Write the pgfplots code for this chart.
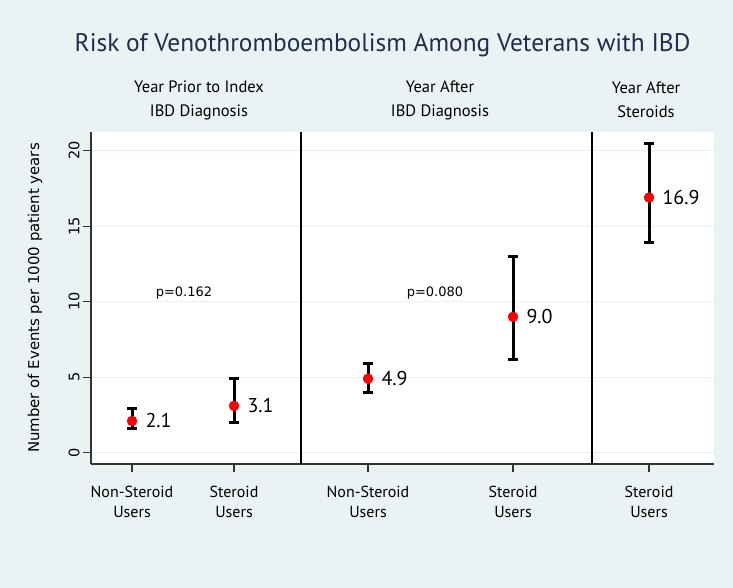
\documentclass[border=0pt]{standalone}
\usepackage{fontspec}
\setmainfont{PT Sans}
\newfontfamily\verd{DejaVu Sans}
\usepackage{pgfplots}
\usepackage{pgfplotstable}
\pgfplotsset{compat=1.18}
\definecolor{bgc}{HTML}{EAF2F3}
\definecolor{gridc}{HTML}{E8F0F2}
\definecolor{titlec}{HTML}{1F2D4F}

% x = position across the panel, y = rate, ep/em = upper/lower CI distance
\pgfplotstableread{
x   y    ep   em   lab
132 2.1  0.8  0.5  2.1
234 3.1  1.8  1.1  3.1
368 4.9  1.0  0.9  4.9
513 9.0  4.0  2.8  9.0
649 16.9 3.6  3.0  16.9
}\vte

\begin{document}
\begin{tikzpicture}[x=1pt,y=1pt]
\fill[bgc] (0,0) rectangle (733,588);
\begin{axis}[
  at={(91pt,124pt)}, anchor=south west,
  scale only axis, width=623pt, height=332pt,
  xmin=91, xmax=714, ymin=-0.75, ymax=21.24,
  axis x line*=bottom, axis y line*=left,
  axis line style={black!80, line width=1.2pt, -},
  axis background/.style={fill=white},
  xtick={132,234,368,513,649},
  xticklabels={{Non-Steroid\\Users},{Steroid\\Users},{Non-Steroid\\Users},{Steroid\\Users},{Steroid\\Users}},
  xticklabel style={align=center, font=\fontsize{16}{20}\selectfont, yshift=-11pt},
  ytick={0,5,10,15,20},
  yticklabel style={rotate=90, anchor=south, font=\verd\fontsize{14.5}{14.5}\selectfont},
  /pgf/number format/assume math mode=true,
  tick align=outside, major tick length=8pt,
  tick style={black!80, line width=1.2pt},
  ymajorgrids, grid style={gridc, line width=1.2pt},
  ylabel={Number of Events per 1000 patient years},
  ylabel style={at={(axis description cs:-0.0899,0.5)}, anchor=center,
                font=\verd\fontsize{14.9}{14.9}\selectfont},
  clip=false,
]
% group separators
\addplot[black, line width=1.5pt, no markers] coordinates {(301,-0.75) (301,21.24)};
\addplot[black, line width=1.5pt, no markers] coordinates {(592,-0.75) (592,21.24)};
% rates with 95% CI
\addplot[only marks, mark=*, mark size=5pt, color=red,
  point meta=explicit symbolic,
  nodes near coords,
  nodes near coords style={anchor=west, xshift=10pt, text=black,
                           font=\fontsize{20}{20}\selectfont},
  error bars/.cd, y dir=both, y explicit,
  error bar style={black, line width=3pt},
  error mark=-,
  error mark options={black, rotate=90, mark size=5pt, line width=3pt}]
  table[x=x, y=y, y error plus=ep, y error minus=em, meta=lab] {\vte};
\node[font=\verd\fontsize{13}{13}\selectfont] at (axis cs:184,10.58) {p=0.162};
\node[font=\verd\fontsize{13}{13}\selectfont] at (axis cs:435,10.58) {p=0.080};
\end{axis}
\node[text=titlec, font=\fontsize{25.4}{25.4}\selectfont] at (382.5,543) {Risk of Venothromboembolism Among Veterans with IBD};
\node[align=center, font=\fontsize{16.5}{24}\selectfont] at (199,488) {Year Prior to Index\\IBD Diagnosis};
\node[align=center, font=\fontsize{16.5}{24}\selectfont] at (440,488) {Year After\\IBD Diagnosis};
\node[align=center, font=\fontsize{16.5}{24}\selectfont] at (646,488) {Year After\\Steroids};
\pgfresetboundingbox
\useasboundingbox (0,0) rectangle (733,588);
\end{tikzpicture}
\end{document}
